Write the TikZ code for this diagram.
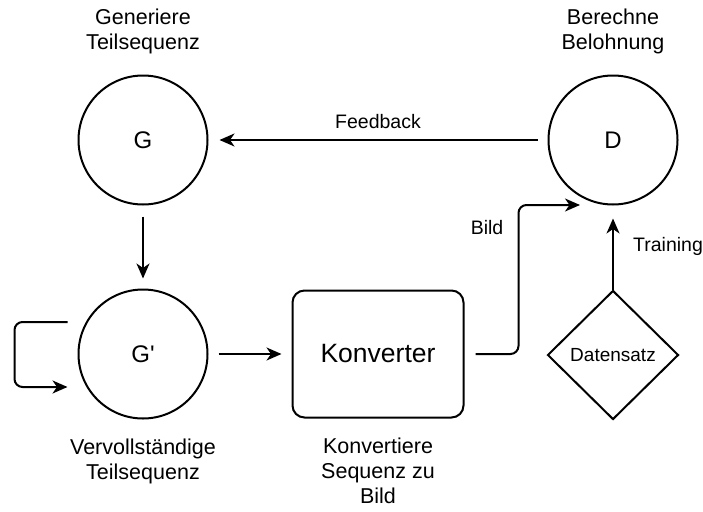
\documentclass[tikz,border=0pt]{standalone}
\usepackage{fontspec}
\setmainfont{Liberation Sans}
\usetikzlibrary{arrows.meta,positioning,shapes.geometric}

\begin{document}
\begin{tikzpicture}[x=1pt,y=-1pt,
  agent/.style={draw,circle,line width=2pt,minimum size=129pt,inner sep=0pt,font=\fontsize{24}{28}\selectfont},
  proc/.style={draw,rectangle,rounded corners=12pt,line width=2pt,minimum width=171pt,minimum height=127pt,font=\fontsize{26.5}{30}\selectfont},
  data/.style={draw,diamond,line width=2pt,minimum width=131pt,minimum height=129pt,inner sep=0pt,font=\fontsize{19}{22}\selectfont},
  caption/.style={align=center,inner sep=0pt,font=\fontsize{21.5}{25}\selectfont},
  elabel/.style={inner sep=0pt,font=\fontsize{19.5}{22}\selectfont},
  arrow/.style={-{Stealth[length=15pt,width=13pt,inset=4.5pt]},line width=2pt}
]
\useasboundingbox (0,0) rectangle (703,511);

\node[agent] (G) at (143,140) {G};
\node[agent] (Gp) at (143,354) {G\textquotesingle};
\node[agent] (D) at (613,140) {D};
\node[proc] (konv) at (378,354) {Konverter};
\node[data] (daten) at (613,355) {Datensatz};

\node[caption,above=20pt of G] (capG) {Generiere\\Teilsequenz};
\node[caption,above=20pt of D] (capD) {Berechne\\Belohnung};
\node[caption,below=19pt of Gp] (capGp) {Vervollständige\\Teilsequenz};
\node[caption,below=19pt of konv] (capK) {Konvertiere\\Sequenz zu\\Bild};

\coordinate (dIn) at (580,205);

% edges
\draw[arrow,shorten <=11pt,shorten >=10pt] (G) -- (Gp);
\draw[arrow,shorten <=10pt,shorten >=11pt] (D) -- node[elabel,above=10pt] (fb) {Feedback} (G);
\draw[arrow,shorten <=10pt,shorten >=10pt] (Gp) -- (konv);
\draw[arrow,rounded corners=8pt,shorten <=11pt] (konv.east) -- ++(54,0) |- (dIn);
\node[elabel] (bild) at (487,228) {Bild};
\draw[arrow,shorten >=13pt] (daten.north) -- (D.south);
\node[elabel,right=20pt of daten.north,yshift=43pt] (train) {Training};
\draw[arrow,rounded corners=8pt] ([shift={(-10,-32)}]Gp.west) -- ++(-53,0) -- ++(0,65) -- ++(53,0);
\end{tikzpicture}
\end{document}
